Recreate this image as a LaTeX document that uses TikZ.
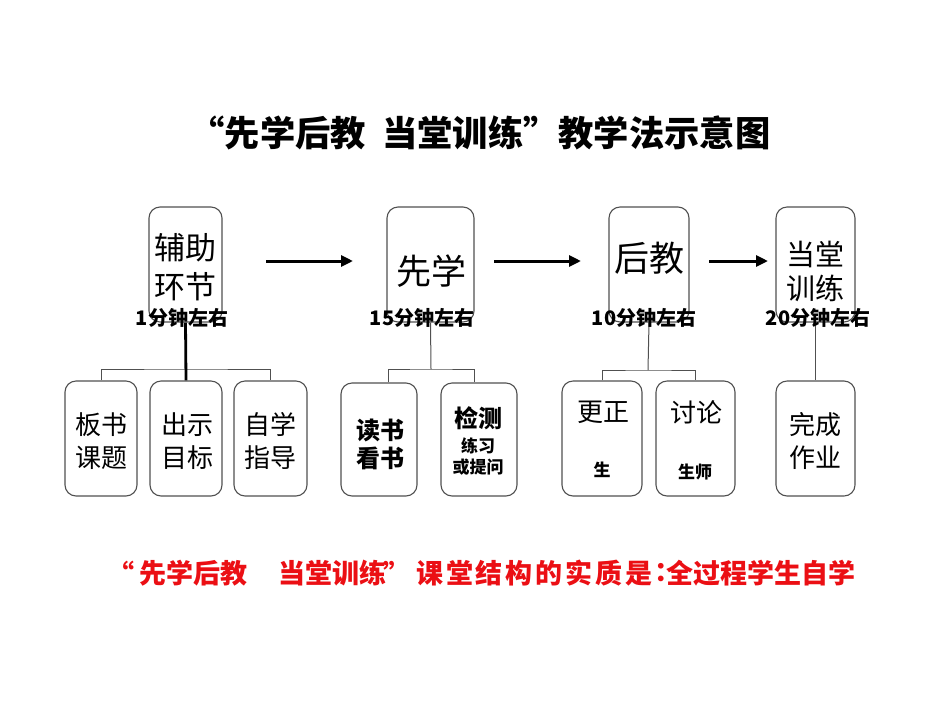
\documentclass[tikz,border=0pt]{standalone}
\usepackage{fontspec}
\setmainfont{Noto Sans CJK SC}
\usetikzlibrary{arrows.meta}
\definecolor{boxgray}{RGB}{80,80,80}
\definecolor{redc}{RGB}{235,15,20}
\begin{document}
\begin{tikzpicture}[x=1pt,y=-1pt,
  box/.style={draw=boxgray, line width=1.1pt, rounded corners=11pt, inner sep=0pt},
  topbox/.style={box, minimum height=115pt},
  botbox/.style={box, minimum height=115pt},
  conn/.style={draw=boxgray, line width=1pt},
  thickconn/.style={draw=black, line width=2.8pt},
  arr/.style={draw=black, line width=3pt, -{Triangle[length=12pt,width=11pt]}},
  bigtxt/.style={font=\fontsize{31}{38}\selectfont, align=center, inner sep=0pt},
  midtxt/.style={font=\fontsize{26}{32}\selectfont, align=center, inner sep=0pt},
  boldmid/.style={font=\bfseries\fontsize{24}{30}\selectfont, align=center, inner sep=0pt},
  smallbold/.style={font=\bfseries\fontsize{17}{20}\selectfont, align=center, inner sep=0pt},
  timelbl/.style={font=\bfseries\fontsize{20}{20}\selectfont, inner sep=0pt},
  redtxt/.style={text=redc, font=\bfseries\fontsize{27}{27}\selectfont, inner sep=0pt}
]
\useasboundingbox[fill=white] (0,0) rectangle (950,713);

% title
\node[font=\bfseries\fontsize{35.3}{36}\selectfont, inner sep=0pt] (title) at (480,133) {“先学后教\ \ 当堂训练”教学法示意图};

% top boxes
\node[topbox, minimum width=73pt] (t1) at (185.5,264.5) {};
\node[topbox, minimum width=87pt] (t2) at (430.5,264.5) {};
\node[topbox, minimum width=80pt] (t3) at (649,264.5) {};
\node[topbox, minimum width=79pt] (t4) at (815.5,264.5) {};

\node[bigtxt] (t1a) at (185,248) {辅助};
\node[bigtxt] (t1b) at (185,287) {环节};
\node[bigtxt, font=\fontsize{35}{40}\selectfont] (t2a) at (431,271) {先学};
\node[bigtxt, font=\fontsize{35}{40}\selectfont] (t3a) at (649,258) {后教};
\node[bigtxt, font=\fontsize{29}{36}\selectfont] (t4a) at (815,254) {当堂};
\node[bigtxt, font=\fontsize{29}{36}\selectfont] (t4b) at (815,288) {训练};

% arrows
\coordinate (a1s) at (266,261); \coordinate (a1e) at (353,261);
\coordinate (a2s) at (494,261); \coordinate (a2e) at (581,261);
\coordinate (a3s) at (709,261); \coordinate (a3e) at (768,261);
\draw[arr] (a1s) -- (a1e);
\draw[arr] (a2s) -- (a2e);
\draw[arr] (a3s) -- (a3e);

% bottom boxes
\node[botbox, minimum width=72pt] (b1) at (101,438.5) {};
\node[botbox, minimum width=72pt] (b2) at (186,438.5) {};
\node[botbox, minimum width=73pt] (b3) at (270.5,438.5) {};
\node[box, minimum width=76pt, minimum height=113pt] (b4) at (379,439.5) {};
\node[box, minimum width=76pt, minimum height=113pt] (b5) at (479,439.5) {};
\node[botbox, minimum width=80pt] (b6) at (602,438.5) {};
\node[botbox, minimum width=79pt] (b7) at (695.5,438.5) {};
\node[botbox, minimum width=79pt] (b8) at (815.5,438.5) {};

% connectors
\coordinate (h1) at (186,369);
\coordinate (h2) at (431,369);
\coordinate (h3) at (648,370);
\draw[conn] (b1.north) |- (h1) -| (b3.north);
\draw[thickconn] (t1.south) -- (b2.north);
\draw[conn] (t2.south) -- (h2);
\draw[conn] ([xshift=9pt]b4.north) |- (h2) -| ([xshift=-5pt]b5.north);
\draw[conn] (t3.south) -- (h3);
\draw[conn] (b6.north) |- (h3) -| (b7.north);
\draw[conn] (t4.south) -- (b8.north);

% time labels
\node[timelbl] (l1) at (182,318) {1分钟左右};
\node[timelbl] (l2) at (422,318) {15分钟左右};
\node[timelbl] (l3) at (644,318) {10分钟左右};
\node[timelbl] (l4) at (818,318) {20分钟左右};

% bottom texts
\node[midtxt] (x1a) at (101,425) {板书};
\node[midtxt] (x1b) at (101,458) {课题};
\node[midtxt] (x2a) at (187,425) {出示};
\node[midtxt] (x2b) at (187,458) {目标};
\node[midtxt] (x3a) at (270,425) {自学};
\node[midtxt] (x3b) at (270,458) {指导};
\node[boldmid] (x4a) at (380,430) {读书};
\node[boldmid] (x4b) at (380,458) {看书};
\node[boldmid] (x5a) at (478,418) {检测};
\node[smallbold] (x5b) at (478,446) {练习};
\node[smallbold] (x5c) at (478,467) {或提问};
\node[midtxt] (x6a) at (603,412) {更正};
\node[smallbold] (x6b) at (602,470) {生};
\node[midtxt] (x7a) at (696,412) {讨论};
\node[smallbold] (x7b) at (695,472) {生师};
\node[midtxt] (x8a) at (815,425) {完成};
\node[midtxt] (x8b) at (815,458) {作业};

% bottom statement
\node[redtxt, anchor=east] (s0) at (135,573) {“};
\node[redtxt, anchor=west] (s1) at (139,573) {先学后教};
\node[redtxt, anchor=west] (s2) at (278,573) {当堂训练};
\node[redtxt] (s3) at (397,573) {”};
\node[redtxt, anchor=west] (s4) at (416,573) {\addfontfeature{LetterSpace=10.5}课堂结构的实质是};
\node[redtxt] (s5) at (668,573) {：};
\node[redtxt, anchor=east] (s6) at (856,573) {全过程学生自学};
\end{tikzpicture}
\end{document}
